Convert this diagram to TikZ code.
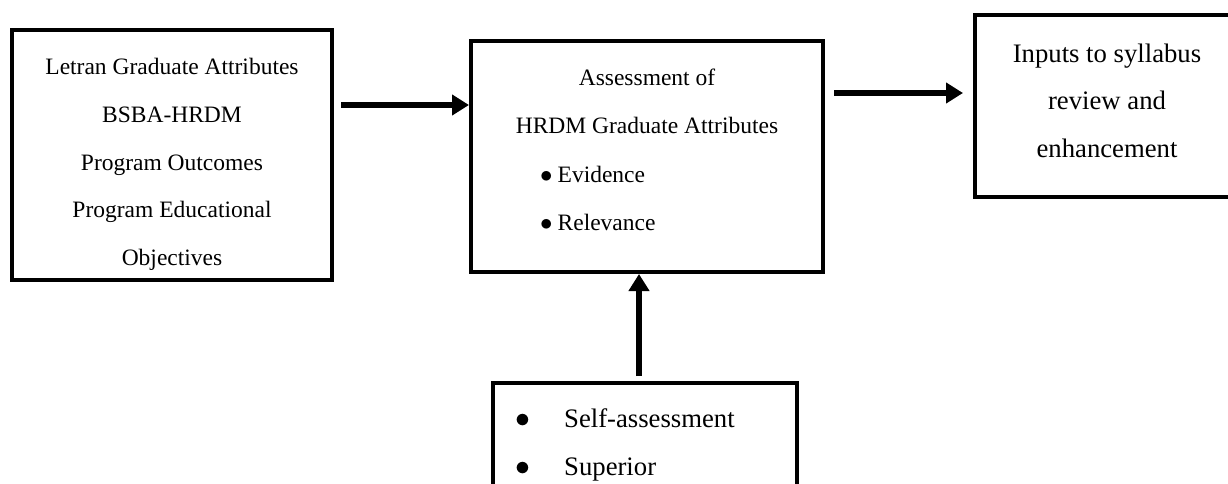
\documentclass[tikz,border=0pt]{standalone}
\usepackage{fontspec}
\setmainfont{Liberation Serif}
\usetikzlibrary{positioning}
\usetikzlibrary{calc}
\usetikzlibrary {arrows.meta}

\begin{document}
\begin{tikzpicture}[x=1pt, y=-1pt,
    box/.style={draw, line width=4pt, inner sep=0pt},
    txt/.style={inner sep=0pt, font=\fontsize{23.5}{47.8}\selectfont},
    bigtxt/.style={inner sep=0pt, font=\fontsize{26.7}{47.3}\selectfont},
    flow/.style={-{Triangle[length=17pt, width=20pt]}, line width=5.5pt}]

    \useasboundingbox (0, 0) rectangle (1228, 484);
    \clip (0, 0) rectangle (1228, 484);

    % Attributes
    \node[box, minimum width=320pt, minimum height=250pt] (attrib) at (172, 155) {};
    \node[txt, align=center, anchor=north] (attribText) at (172, 58)
        {Letran Graduate Attributes\\ BSBA-HRDM\\ Program Outcomes\\ Program Educational\\ Objectives};

    % Assessment
    \node[box, minimum width=352pt, minimum height=231pt] (assess) at (647, 156.5) {};
    \node[txt, align=center, anchor=north] (assessText) at (647, 69)
        {Assessment of\\ HRDM Graduate Attributes};
    \node[txt, align=left, anchor=north west] (assessList) at (540, 166)
        {$\bullet$\hspace{5pt}Evidence\\ $\bullet$\hspace{5pt}Relevance};

    % Inputs (runs past the right edge)
    \node[box, minimum width=264pt, minimum height=182pt] (inputs) at (1107, 106) {};
    \node[bigtxt, align=center, anchor=north] (inputsText) at (1107, 43.8)
        {Inputs to syllabus\\ review and\\ enhancement};

    % Sources (runs past the bottom edge)
    \node[box, minimum width=304pt, minimum height=137pt] (sources) at (645, 451.5) {};
    \node[bigtxt, align=left, anchor=north west] (sourcesText) at (515.5, 408.8)
        {\makebox[48.5pt][l]{\scalebox{1.2}{$\bullet$}}Self-assessment\\
         \makebox[48.5pt][l]{\scalebox{1.2}{$\bullet$}}Superior};

    % Arrows
    \coordinate (r1) at (341, 105);
    \draw[flow] (r1) -- (r1 -| assess.west);
    \coordinate (r2) at (834, 93);
    \draw[flow, shorten >=10pt] (r2) -- (r2 -| inputs.west);
    \coordinate (r3) at (639, 376);
    \draw[flow] (r3) -- (r3 |- assess.south);

\end{tikzpicture}
\end{document}
